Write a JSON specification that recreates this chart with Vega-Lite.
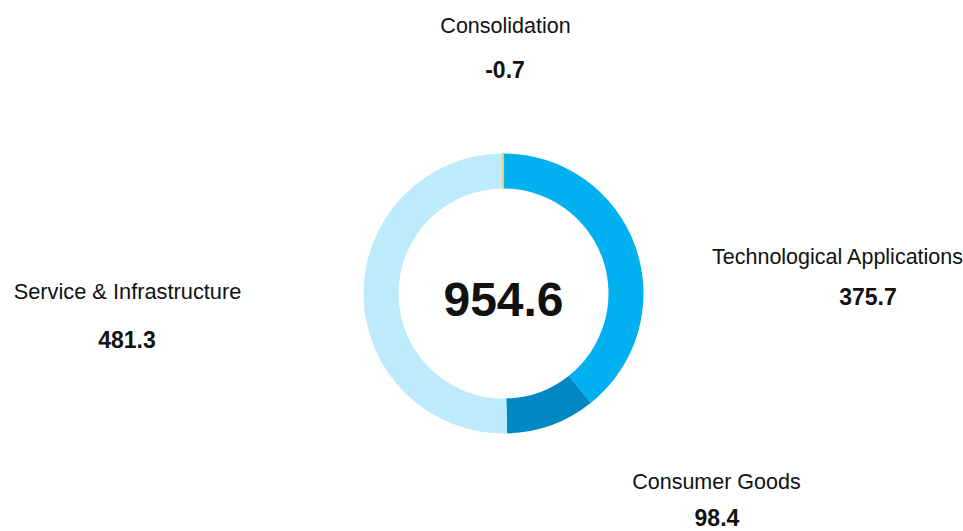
{
  "$schema": "https://vega.github.io/schema/vega-lite/v6.json",
  "width": 919,
  "height": 475,
  "autosize": {"type": "none"},
  "padding": {"left": 44, "top": 56, "right": 0, "bottom": 0},
  "background": "white",
  "config": {"view": {"stroke": null}, "font": "Liberation Sans"},
  "title": {
    "text": "€ million",
    "anchor": "start",
    "frame": "group",
    "fontSize": 21,
    "fontWeight": "normal",
    "font": "Liberation Sans",
    "color": "#111111",
    "baseline": "alphabetic",
    "offset": 2,
    "dx": -44
  },
  "data": {
    "values": [
      {"category": "Technological Applications", "value": 375.7, "size": 375.7, "rank": 1},
      {"category": "Consumer Goods", "value": 98.4, "size": 98.4, "rank": 2},
      {"category": "Service & Infrastructure", "value": 481.3, "size": 481.3, "rank": 3},
      {"category": "Consolidation", "value": -0.7, "size": 0.7, "rank": 4}
    ]
  },
  "encoding": {
    "theta": {"field": "size", "type": "quantitative", "stack": true},
    "order": {"field": "rank", "type": "quantitative"}
  },
  "layer": [
    {
      "mark": {"type": "arc", "outerRadius": 140, "innerRadius": 105, "strokeWidth": 1.2},
      "encoding": {
        "color": {
          "field": "category",
          "type": "nominal",
          "scale": {
            "domain": ["Technological Applications", "Consumer Goods", "Service & Infrastructure", "Consolidation"],
            "range": ["#00B0F0", "#0088C4", "#BDEBFC", "#E6CF6E"]
          },
          "legend": null
        },
        "stroke": {
          "condition": {"test": "datum.category === 'Consolidation'", "value": "#E6CF6E"},
          "value": "transparent"
        }
      }
    },
    {
      "transform": [{"filter": "datum.category === 'Consolidation'"}],
      "mark": {"type": "text", "radius": 266.5, "thetaOffset": 0.0052, "fontSize": 21.5, "color": "#111111", "align": "center", "baseline": "middle"},
      "encoding": {"text": {"field": "category", "type": "nominal"}}
    },
    {
      "transform": [{"filter": "datum.category === 'Consolidation'"}],
      "mark": {"type": "text", "radius": 222.5, "thetaOffset": 0.0044, "fontSize": 23, "fontWeight": "bold", "color": "#111111", "align": "center", "baseline": "middle"},
      "encoding": {"text": {"field": "value", "type": "nominal"}}
    },
    {
      "transform": [{"filter": "datum.category === 'Technological Applications'"}],
      "mark": {"type": "text", "radius": 335.9, "thetaOffset": 0.2304, "fontSize": 21.5, "color": "#111111", "align": "center", "baseline": "middle"},
      "encoding": {"text": {"field": "category", "type": "nominal"}}
    },
    {
      "transform": [{"filter": "datum.category === 'Technological Applications'"}],
      "mark": {"type": "text", "radius": 364.5, "thetaOffset": 0.3487, "fontSize": 23, "fontWeight": "bold", "color": "#111111", "align": "center", "baseline": "middle"},
      "encoding": {"text": {"field": "value", "type": "nominal"}}
    },
    {
      "transform": [{"filter": "datum.category === 'Service & Infrastructure'"}],
      "mark": {"type": "text", "radius": 376, "thetaOffset": 3.135, "fontSize": 21.8, "color": "#111111", "align": "center", "baseline": "middle"},
      "encoding": {"text": {"field": "category", "type": "nominal"}}
    },
    {
      "transform": [{"filter": "datum.category === 'Service & Infrastructure'"}],
      "mark": {"type": "text", "radius": 379.5, "thetaOffset": 3.0055, "fontSize": 23, "fontWeight": "bold", "color": "#111111", "align": "center", "baseline": "middle"},
      "encoding": {"text": {"field": "value", "type": "nominal"}}
    },
    {
      "transform": [{"filter": "datum.category === 'Consumer Goods'"}],
      "mark": {"type": "text", "radius": 285.1, "thetaOffset": 1.9747, "fontSize": 21.5, "color": "#111111", "align": "center", "baseline": "middle"},
      "encoding": {"text": {"field": "category", "type": "nominal"}}
    },
    {
      "transform": [{"filter": "datum.category === 'Consumer Goods'"}],
      "mark": {"type": "text", "radius": 310.5, "thetaOffset": 2.0604, "fontSize": 23, "fontWeight": "bold", "color": "#111111", "align": "center", "baseline": "middle"},
      "encoding": {"text": {"field": "value", "type": "nominal"}}
    },
    {
      "data": {"values": [{"total": "954.6"}]},
      "mark": {"type": "text", "fontSize": 48, "fontWeight": "bold", "color": "#111111", "align": "center", "baseline": "alphabetic", "dy": 22},
      "encoding": {"text": {"field": "total", "type": "nominal"}, "theta": null, "order": null}
    }
  ]
}
